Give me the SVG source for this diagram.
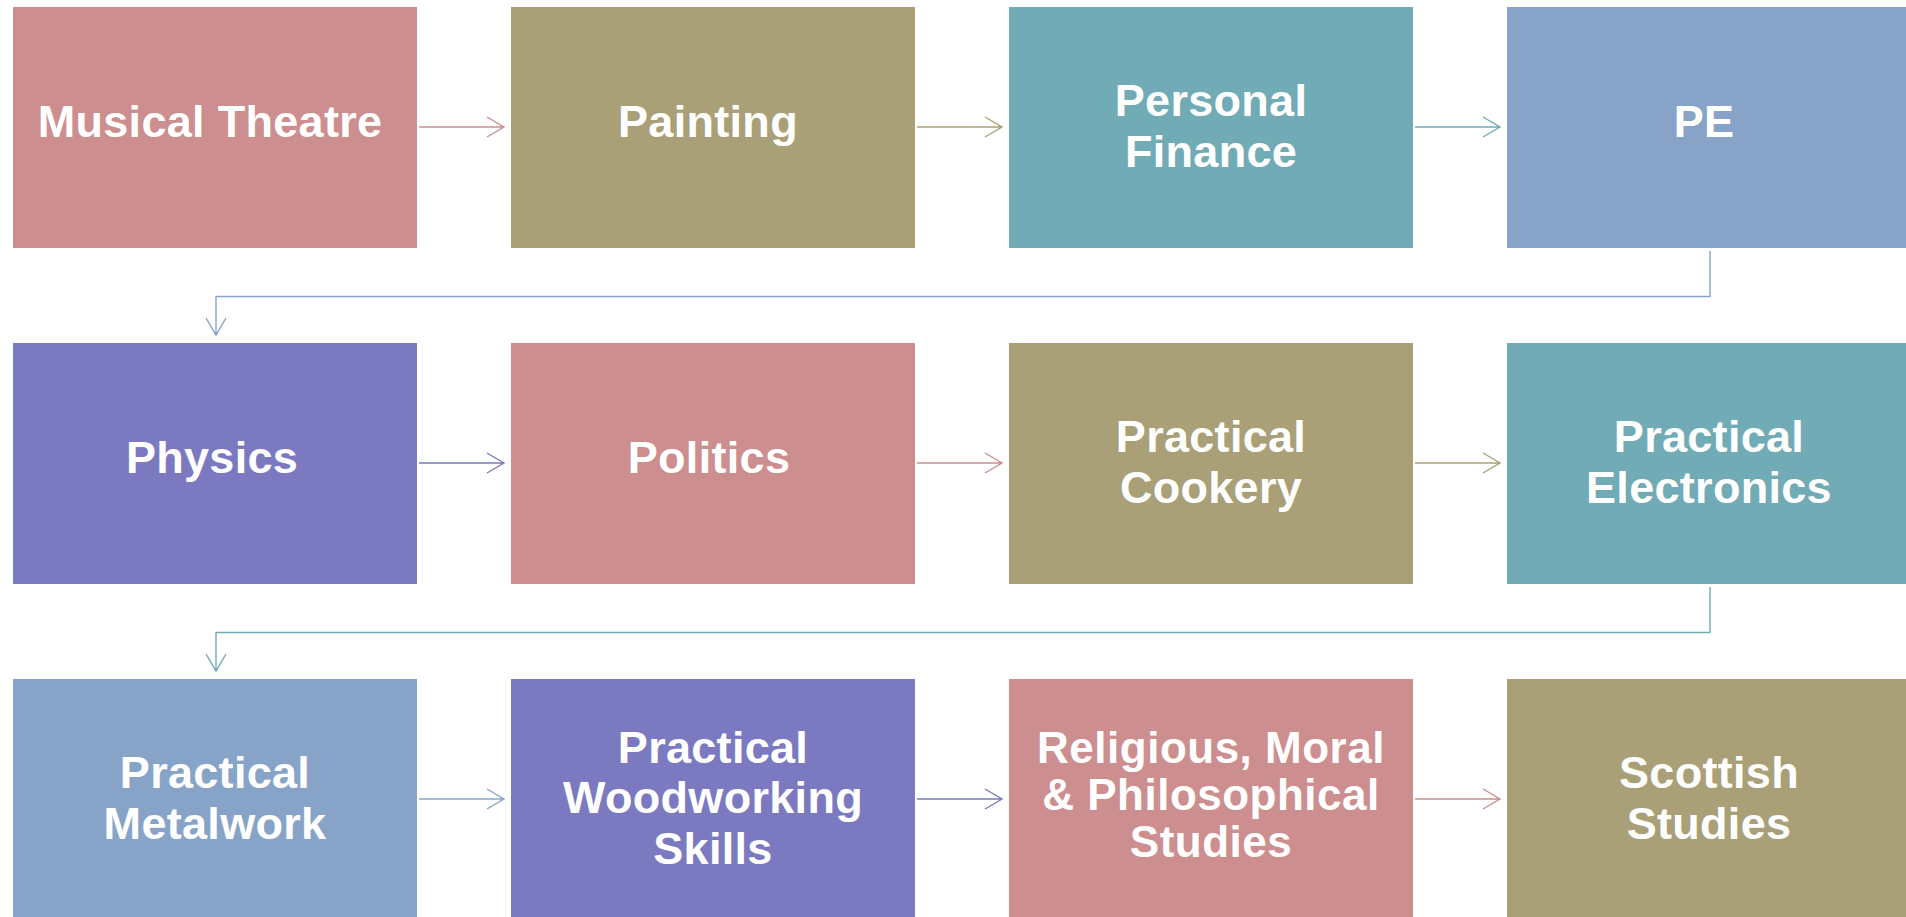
<svg xmlns="http://www.w3.org/2000/svg" width="1906" height="917" viewBox="0 0 1906 917">
<style>
.pink{fill:#CC8E8F}.olive{fill:#A9A077}.teal{fill:#71ABB5}.blue{fill:#87A4C8}.purple{fill:#7B7AC0}
text{font-family:"Liberation Sans",Arial,Helvetica,sans-serif;font-weight:bold;font-size:45px;fill:#fff;text-anchor:middle;letter-spacing:0.3px}
text.sm{font-size:44px;letter-spacing:0.5px}
.c{fill:none;stroke-width:1.4}
</style>
<rect width="1906" height="917" fill="#fff"/>
<g id="connectors">
<path class="c" stroke="#CC8E8F" d="M419 127H504M487 117L504 127L487 137"/>
<path class="c" stroke="#A9A077" d="M917 127H1002M985 117L1002 127L985 137"/>
<path class="c" stroke="#71ABB5" d="M1415 127H1500M1483 117L1500 127L1483 137"/>
<path class="c" stroke="#87A4C8" d="M1710 251V296.5H216V335M206 318L216 335L226 318"/>
<path class="c" stroke="#7B7AC0" d="M419 463H504M487 453L504 463L487 473"/>
<path class="c" stroke="#CC8E8F" d="M917 463H1002M985 453L1002 463L985 473"/>
<path class="c" stroke="#A9A077" d="M1415 463H1500M1483 453L1500 463L1483 473"/>
<path class="c" stroke="#71ABB5" d="M1710 587V632.5H216V671M206 654L216 671L226 654"/>
<path class="c" stroke="#87A4C8" d="M419 799H504M487 789L504 799L487 809"/>
<path class="c" stroke="#7B7AC0" d="M917 799H1002M985 789L1002 799L985 809"/>
<path class="c" stroke="#CC8E8F" d="M1415 799H1500M1483 789L1500 799L1483 809"/>
</g>
<g id="n1"><rect class="pink" x="13" y="7" width="404" height="241"/><text x="210" y="137">Musical Theatre</text></g>
<g id="n2"><rect class="olive" x="511" y="7" width="404" height="241"/><text x="708" y="137">Painting</text></g>
<g id="n3"><rect class="teal" x="1009" y="7" width="404" height="241"/><text x="1211" y="116">Personal</text><text x="1211" y="167">Finance</text></g>
<g id="n4"><rect class="blue" x="1507" y="7" width="404" height="241"/><text x="1704" y="137">PE</text></g>
<g id="n5"><rect class="purple" x="13" y="343" width="404" height="241"/><text x="212" y="473">Physics</text></g>
<g id="n6"><rect class="pink" x="511" y="343" width="404" height="241"/><text x="709" y="473">Politics</text></g>
<g id="n7"><rect class="olive" x="1009" y="343" width="404" height="241"/><text x="1211" y="452">Practical</text><text x="1211" y="503">Cookery</text></g>
<g id="n8"><rect class="teal" x="1507" y="343" width="404" height="241"/><text x="1709" y="452">Practical</text><text x="1709" y="503">Electronics</text></g>
<g id="n9"><rect class="blue" x="13" y="679" width="404" height="241"/><text x="215" y="788">Practical</text><text x="215" y="839">Metalwork</text></g>
<g id="n10"><rect class="purple" x="511" y="679" width="404" height="241"/><text x="713" y="763">Practical</text><text x="713" y="813">Woodworking</text><text x="713" y="864">Skills</text></g>
<g id="n11"><rect class="pink" x="1009" y="679" width="404" height="241"/><text class="sm" x="1211" y="763">Religious, Moral</text><text class="sm" x="1211" y="810">&amp; Philosophical</text><text class="sm" x="1211" y="857">Studies</text></g>
<g id="n12"><rect class="olive" x="1507" y="679" width="404" height="241"/><text x="1709" y="788">Scottish</text><text x="1709" y="839">Studies</text></g>
</svg>
